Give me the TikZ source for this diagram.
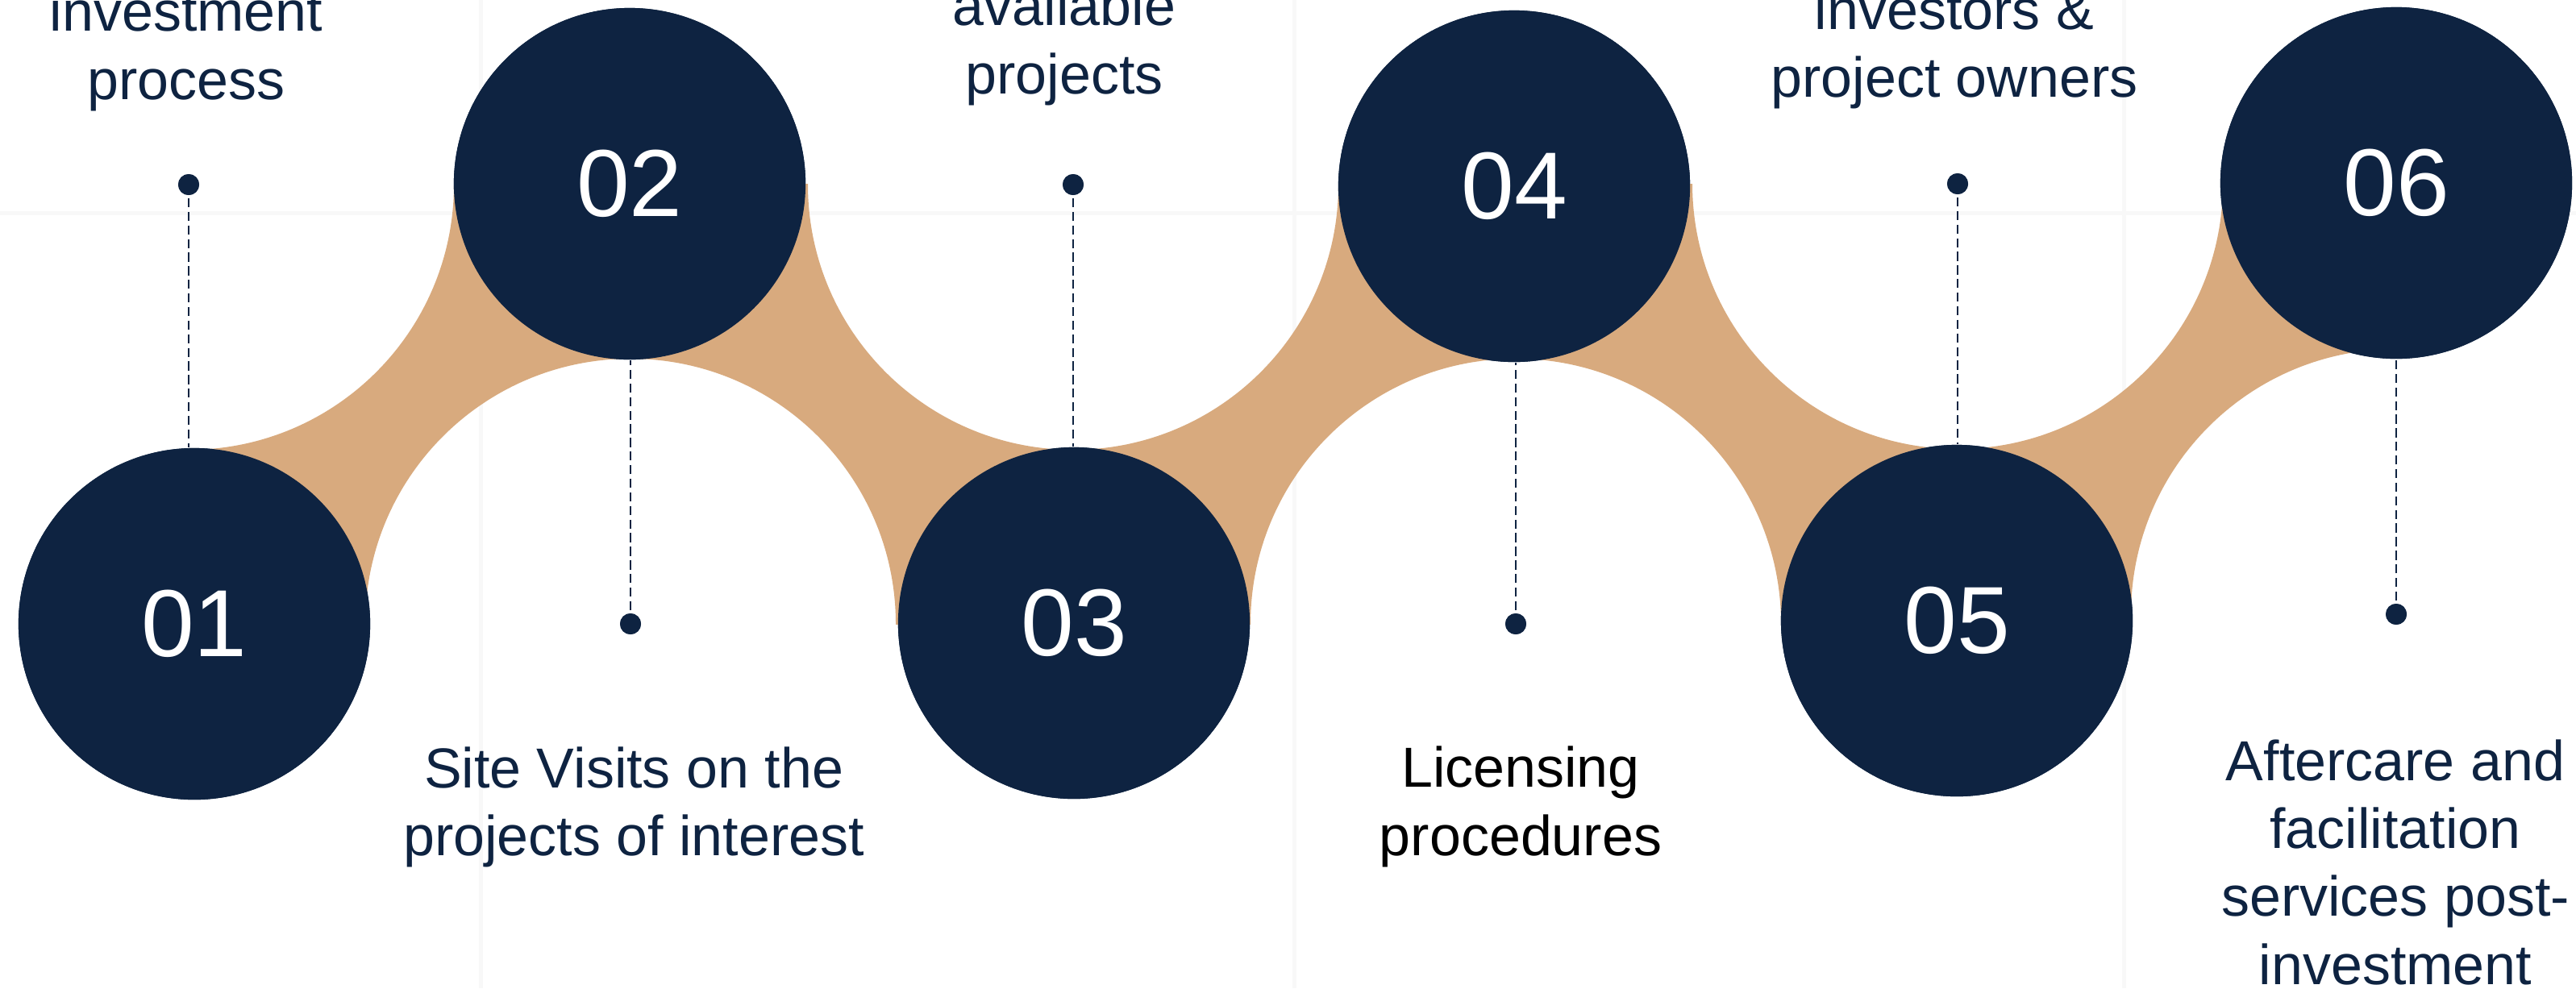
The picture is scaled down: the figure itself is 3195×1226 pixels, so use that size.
\documentclass[tikz,border=0pt]{standalone}
\usepackage{fontspec}
\setmainfont{Liberation Sans}
\definecolor{navy}{HTML}{0E2341}
\definecolor{sand}{HTML}{D8AA7E}
\definecolor{faint}{HTML}{F8F8F8}
\begin{document}
\begin{tikzpicture}[x=0.01cm,y=-0.01cm,
  stepcircle/.style={circle, fill=navy, minimum size=4.36cm, inner sep=0pt,
    text=white, font=\fontsize{33.6}{40}\selectfont},
  stepdot/.style={circle, fill=navy, minimum size=0.26cm, inner sep=0pt},
  leader/.style={draw=navy, line width=0.8pt, dash pattern=on 3.2pt off 1.6pt},
  caption/.style={align=center, anchor=base, inner sep=0pt, text=navy,
    font=\fontsize{19.9}{23.9}\selectfont},
  guide/.style={draw=faint, line width=0.05cm}]
\useasboundingbox (0,0) rectangle (3195,1226);
% faint background guides
\coordinate (g1a) at (596,0);   \coordinate (g1b) at (596,1226);
\coordinate (g2a) at (1605,0);  \coordinate (g2b) at (1605,1226);
\coordinate (g3a) at (2634,0);  \coordinate (g3b) at (2634,1226);
\coordinate (g4a) at (0,264);   \coordinate (g4b) at (3195,264);
\draw[guide] (g1a) -- (g1b);
\draw[guide] (g2a) -- (g2b);
\draw[guide] (g3a) -- (g3b);
\draw[guide] (g4a) -- (g4b);
% step circles
\path (241,774)  node[stepcircle] (c1) {}
      (781,228)  node[stepcircle] (c2) {}
      (1332,773) node[stepcircle] (c3) {}
      (1878,231) node[stepcircle] (c4) {}
      (2427,770) node[stepcircle] (c5) {}
      (2972,227) node[stepcircle] (c6) {};
% dots
\path (234,229)  node[stepdot] (d1) {}
      (782,774)  node[stepdot] (d2) {}
      (1331,229) node[stepdot] (d3) {}
      (1880,774) node[stepdot] (d4) {}
      (2428,228) node[stepdot] (d5) {}
      (2972,762) node[stepdot] (d6) {};
% sand ribbon: strip between the two rows minus circles round the dots
\begin{scope}
  \clip (c1.center |- c2.center) rectangle (c6.center |- c1.center);
  \fill[sand, even odd rule] (-10,-10) rectangle (3210,1240)
    (d1.center) circle[radius=329] (d2.center) circle[radius=329]
    (d3.center) circle[radius=329] (d4.center) circle[radius=329]
    (d5.center) circle[radius=329] (d6.center) circle[radius=329];
\end{scope}
% leaders
\draw[leader] (d1.center) -- (d1 |- c1.north);
\draw[leader] (d2.center) -- (d2 |- c2.south);
\draw[leader] (d3.center) -- (d3 |- c3.north);
\draw[leader] (d4.center) -- (d4 |- c4.south);
\draw[leader] (d5.center) -- (d5 |- c5.north);
\draw[leader] (d6.center) -- (d6 |- c6.south);
% redraw circles and dots on top
\foreach \n/\t in {c1/01,c2/02,c3/03,c4/04,c5/05,c6/06}{
  \node[stepcircle] at (\n) {\t};
}
\foreach \n in {d1,d2,d3,d4,d5,d6}{
  \node[stepdot] at (\n) {};
}
% captions (anchor = baseline of the last line)
\node[caption] (t1) at (231,123) {investment\\process};
\node[caption] (t2) at (786,1061.6) {Site Visits on the\\projects of interest};
\node[caption] (t3) at (1320,116) {available\\projects};
\node[caption, text=black] (t4) at (1886,1061) {Licensing\\procedures};
\node[caption] (t5) at (2424,120.5) {investors \&\\project owners};
\node[caption] (t6) at (2971,1221) {Aftercare and\\facilitation\\services post-\\investment};
\end{tikzpicture}
\end{document}
